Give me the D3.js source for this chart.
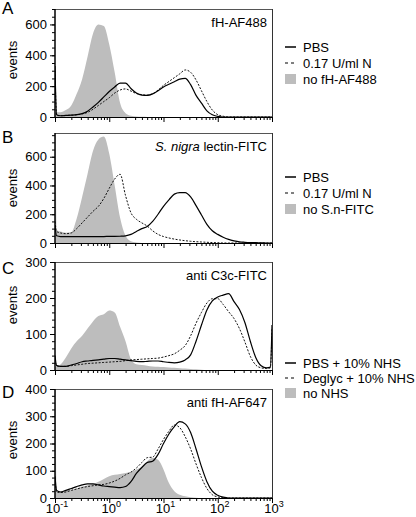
<!DOCTYPE html>
<html><head><meta charset="utf-8">
<script src="https://cdn.jsdelivr.net/npm/d3@7"></script>
<style>
html,body{margin:0;padding:0;background:#fff;}
svg{display:block;font-family:"Liberation Sans",Arial,Helvetica,sans-serif;}
</style></head>
<body>
<svg id="chart" width="416" height="517"></svg>
<script>
// log10 fluorescence channel positions
const logFL = [-1,-0.97,-0.9,-0.8,-0.7,-0.6,-0.5,-0.4,-0.3,-0.2,-0.1,0,0.1,0.2,0.3,0.4,0.5,0.6,0.7,0.8,0.9,1.0,1.1,1.2,1.3,1.4,1.5,1.6,1.7,1.8,1.9,2.0,2.1,2.2,2.3,2.4,2.5,2.6,2.7,2.8,2.9,2.97,3.0];

// Panel A: fH-AF488
const grayA   = [30,30,30,45,75,150,245,390,540,600,590,470,290,90,25,8,3,1,0,0,0,0,0,0,0,0,0,0,0,0,0,0,0,0,0,0,0,0,0,0,0,0,0];
const solidA  = [330,15,8,10,12,15,22,38,65,95,130,165,195,220,220,185,155,142,140,150,170,195,212,228,245,250,210,140,90,40,14,4,0,0,0,0,0,0,0,0,0,0,0];
const dashedA = [300,10,8,10,12,14,20,30,50,75,100,125,155,175,182,168,152,145,142,150,175,205,230,255,280,305,290,240,170,100,45,15,5,0,0,0,0,0,0,0,0,0,0];

// Panel B: S. nigra lectin-FITC
const grayB   = [2000,90,80,72,75,170,320,480,640,720,740,620,400,175,50,12,3,0,0,0,0,0,0,0,0,0,0,0,0,0,0,0,0,0,0,0,0,0,0,0,0,0,0];
const solidB  = [120,50,45,45,45,45,44,44,45,45,45,46,46,47,50,60,80,100,115,150,200,255,300,340,350,350,320,260,195,130,85,60,40,25,15,8,5,3,2,1,0,0,0];
const dashedB = [150,80,70,65,70,100,140,180,220,255,310,380,445,478,330,210,165,140,118,85,60,45,35,27,21,16,12,9,7,5,3,2,0,0,0,0,0,0,0,0,0,0,0];

// Panel C: anti C3c-FITC
const grayC   = [10,10,15,35,60,80,95,115,135,150,155,165,160,120,80,30,16,14,12,10,9,8,7,6,5,4,3,2,1,0,0,0,0,0,0,0,0,0,0,0,0,0,0];
const solidC  = [40,12,10,10,14,18,23,25,27,28,30,32,32,30,28,26,24,23,24,25,25,23,21,20,22,28,42,80,125,167,192,203,208,212,190,168,132,80,35,12,6,8,125];
const dashedC = [30,12,10,10,12,14,16,18,19,20,21,22,23,24,26,28,29,30,31,32,33,36,40,45,55,68,95,130,160,186,198,198,182,162,143,115,78,38,14,6,4,6,115];

// Panel D: anti fH-AF647
const grayD   = [1000,25,25,28,30,35,42,47,52,60,70,80,85,88,92,96,105,115,135,148,140,105,55,25,12,6,3,1,0,0,0,0,0,0,0,0,0,0,0,0,0,0,0];
const solidD  = [80,28,22,28,35,42,48,52,52,48,44,42,40,38,42,60,90,112,130,135,160,200,235,262,280,272,240,180,115,60,25,10,3,0,0,0,0,0,0,0,0,0,0];
const dashedD = [70,22,20,22,28,33,38,42,45,48,50,55,62,72,85,95,110,130,148,150,180,215,245,268,258,225,180,125,75,35,12,4,1,0,0,0,0,0,0,0,0,0,0];

const yMaxes = [700, 765, 300, 400];
const yMajors = [[0,200,400,600],[0,200,400,600],[0,100,200,300],[0,100,200,300,400]];
const yMinorSteps = [50, 50, 20, 25];
const panelLetters = ["A","B","C","D"];
const panelTitles = ["fH-AF488", "S. nigra lectin-FITC", "anti C3c-FITC", "anti fH-AF647"];
const legendAB_A = ["PBS", "0.17 U/ml N", "no fH-AF488"];
const legendAB_B = ["PBS", "0.17 U/ml N", "no S.n-FITC"];
const legendCD = ["PBS + 10% NHS", "Deglyc + 10% NHS", "no NHS"];
const xMajorExp = [-1, 0, 1, 2, 3];

const series = [
  {gray: grayA, solid: solidA, dashed: dashedA},
  {gray: grayB, solid: solidB, dashed: dashedB},
  {gray: grayC, solid: solidC, dashed: dashedC},
  {gray: grayD, solid: solidD, dashed: dashedD}
];

// layout
const L = 55, R = 272;
const panelBox = [[9,117],[133,243],[262,370],[389,498]];
const letterY = [14, 143, 274, 398];
const eventsY = [60, 188, 305, 440];

const svg = d3.select("#chart");
const x = d3.scaleLog().domain([0.1, 1000]).range([L, R]);
const xMinor = [];
for (let e = -1; e < 3; e++) for (let k = 2; k <= 9; k++) xMinor.push(k * Math.pow(10, e));

panelBox.forEach((pb, i) => {
  const [top, bottom] = pb;
  const y = d3.scaleLinear().domain([0, yMaxes[i]]).range([bottom, top]);
  const g = svg.append("g");
  const clipId = "clip" + i;
  g.append("clipPath").attr("id", clipId).append("rect")
    .attr("x", L).attr("y", top).attr("width", R - L).attr("height", bottom - top);

  const pts = k => logFL.map((v, j) => [Math.pow(10, v), series[i][k][j]]);
  const area = d3.area().x(d => x(d[0])).y0(y(0)).y1(d => y(d[1])).curve(d3.curveMonotoneX);
  const line = d3.line().x(d => x(d[0])).y(d => y(d[1])).curve(d3.curveMonotoneX);
  const dg = g.append("g").attr("clip-path", `url(#${clipId})`);
  dg.append("path").attr("d", area(pts("gray"))).attr("fill", "#bdbdbd");
  dg.append("path").attr("d", line(pts("dashed"))).attr("fill", "none")
    .attr("stroke", "#111").attr("stroke-width", 1).attr("stroke-dasharray", "2,1.5");
  dg.append("path").attr("d", line(pts("solid"))).attr("fill", "none")
    .attr("stroke", "#000").attr("stroke-width", 1.2);

  // frame top & right
  g.append("line").attr("x1", L).attr("x2", R).attr("y1", top + 0.5).attr("y2", top + 0.5).attr("stroke", "#555");
  g.append("line").attr("x1", R + 0.5).attr("x2", R + 0.5).attr("y1", top).attr("y2", bottom).attr("stroke", "#333");

  // y axis
  const minor = d3.range(0, yMaxes[i] + 0.01, yMinorSteps[i]);
  const ya1 = g.append("g").attr("transform", `translate(${L},0)`)
    .call(d3.axisLeft(y).tickValues(minor).tickSize(3).tickFormat(""));
  const ya2 = g.append("g").attr("transform", `translate(${L},0)`)
    .call(d3.axisLeft(y).tickValues(yMajors[i]).tickSize(5).tickPadding(3).tickFormat(d3.format("d")));
  [ya1, ya2].forEach(a => { a.select(".domain").remove(); a.selectAll("line").attr("stroke", "#000"); });
  ya2.selectAll("text").attr("font-size", 13).attr("fill", "#000").attr("font-family", "Liberation Sans, Arial, sans-serif");
  g.append("line").attr("x1", L).attr("x2", L).attr("y1", top).attr("y2", bottom + 0.5)
    .attr("stroke", "#000").attr("stroke-width", 1.5);

  // x axis
  const xa1 = g.append("g").attr("transform", `translate(0,${bottom})`)
    .call(d3.axisBottom(x).tickValues(xMinor).tickSize(3).tickFormat(""));
  const xa2 = g.append("g").attr("transform", `translate(0,${bottom})`)
    .call(d3.axisBottom(x).tickValues(xMajorExp.map(e => Math.pow(10, e))).tickSize(5).tickFormat(""));
  [xa1, xa2].forEach(a => { a.select(".domain").remove(); a.selectAll("line").attr("stroke", "#000"); });
  g.append("line").attr("x1", L).attr("x2", R + 1).attr("y1", bottom + 0.5).attr("y2", bottom + 0.5).attr("stroke", "#000");

  // letter
  svg.append("text").attr("x", 2).attr("y", letterY[i]).attr("font-size", 17).text(panelLetters[i]);
  // events
  svg.append("text").attr("transform", `translate(17,${eventsY[i]}) rotate(-90)`)
    .attr("text-anchor", "middle").attr("font-size", 13).text("events");
  // title
  const t = svg.append("text").attr("x", 267).attr("y", top + 18).attr("text-anchor", "end").attr("font-size", 13);
  if (i === 1) {
    t.append("tspan").attr("font-style", "italic").text("S. nigra");
    t.append("tspan").text(" lectin-FITC");
  } else t.text(panelTitles[i]);

  if (i === 3) {
    xMajorExp.forEach(e => {
      const tt = svg.append("text").attr("x", x(Math.pow(10, e)) + 2).attr("y", 513)
        .attr("text-anchor", "middle").attr("font-size", 13);
      tt.append("tspan").text("10");
      tt.append("tspan").attr("font-size", 9).attr("dy", -6).text(e < 0 ? "-" + Math.abs(e) : String(e));
    });
  }
});

// legends
function legend(items, y0, dy) {
  items.forEach((lab, k) => {
    const yy = y0 + k * dy;
    if (k === 0) svg.append("line").attr("x1", 285).attr("x2", 296).attr("y1", yy).attr("y2", yy).attr("stroke", "#000").attr("stroke-width", 1.5);
    if (k === 1) svg.append("line").attr("x1", 285).attr("x2", 296).attr("y1", yy).attr("y2", yy).attr("stroke", "#000").attr("stroke-width", 1.2).attr("stroke-dasharray", "3,3");
    if (k === 2) svg.append("rect").attr("x", 285).attr("y", yy - 5).attr("width", 11).attr("height", 10).attr("fill", "#bdbdbd");
    svg.append("text").attr("x", 303).attr("y", yy + 4.5).attr("font-size", 13).text(lab);
  });
}
legend(legendAB_A, 47, 16);
legend(legendAB_B, 177, 16);
legend(legendCD, 363, 15);
</script>
</body></html>
